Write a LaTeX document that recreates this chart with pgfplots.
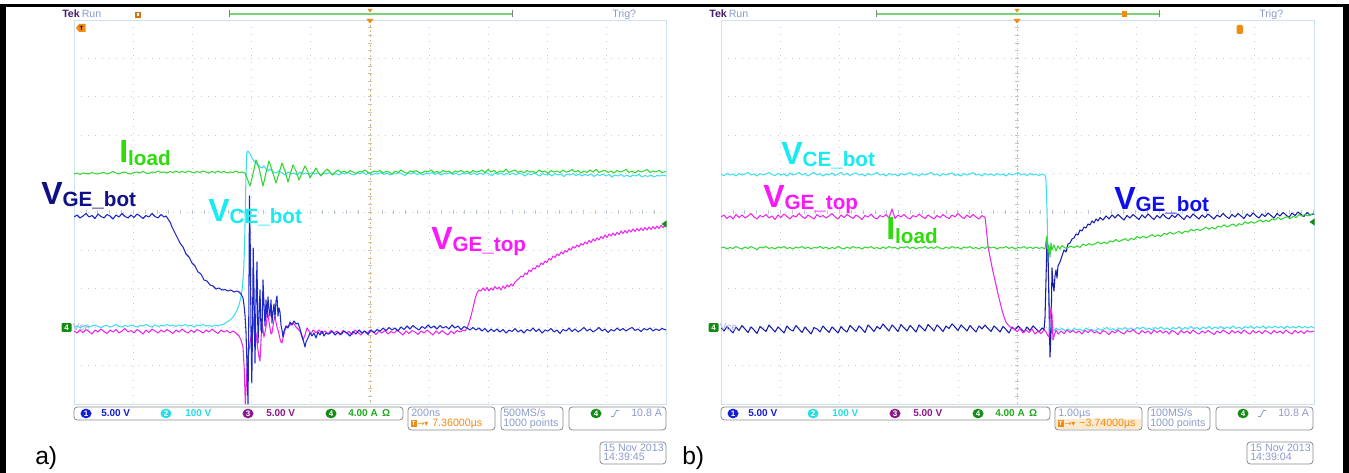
\documentclass[border=0pt]{standalone}
\usepackage{pgfplots}
\pgfplotsset{compat=1.18}
\usepackage{fontspec}
\setmainfont{Liberation Sans}
\newfontfamily\dv{DejaVu Sans}
\definecolor{trgreen}{RGB}{50,215,50}
\definecolor{trcyan}{RGB}{60,222,238}
\definecolor{trblue}{RGB}{30,40,200}
\definecolor{trblueb}{RGB}{25,30,170}
\definecolor{trmag}{RGB}{235,40,235}
\definecolor{labnavy}{RGB}{15,15,135}
\definecolor{labblue}{RGB}{15,15,235}
\definecolor{labgreen}{RGB}{45,220,10}
\definecolor{labcyan}{RGB}{25,235,240}
\definecolor{labmag}{RGB}{250,25,250}
\definecolor{gridc}{RGB}{195,205,220}
\definecolor{gridframe}{RGB}{205,225,242}
\definecolor{uitext}{RGB}{140,155,205}
\definecolor{uiorange}{RGB}{240,140,20}
\definecolor{tekpurple}{RGB}{70,30,110}
\definecolor{boxc}{RGB}{140,140,140}
\definecolor{ch1}{RGB}{20,30,215}
\definecolor{ch2}{RGB}{40,220,230}
\definecolor{ch3}{RGB}{140,25,140}
\definecolor{ch4}{RGB}{20,140,20}
\definecolor{ch4t}{RGB}{30,170,30}
\definecolor{brgreen}{RGB}{120,210,120}
\definecolor{peach}{RGB}{253,233,205}
\definecolor{ctrline}{RGB}{235,175,100}

\pgfplotsset{tekscope/.style={
  width=444pt, height=288pt, scale only axis, anchor=south west,
  y dir=reverse, ymin=20, ymax=404,
  ytick={20,58.4,...,404},
  xticklabels={}, yticklabels={}, tick style={draw=none},
  axis line style={draw=gridframe, line width=0.6pt},
  grid=major, major grid style={gridc, line width=0.55pt, dash pattern=on 0.7pt off 4.6pt},
  every axis plot/.append style={line width=0.8pt, mark=none, line join=round}
}}

\newcommand{\uif}{\fontsize{8}{9}\selectfont}
\newcommand{\sig}[6]{\node[anchor=base west,inner sep=0pt,text=#1,font=\bfseries] at (#2,#3) {\fontsize{24}{24}\selectfont #4\fontsize{15.5}{16}\selectfont\raisebox{#6}{#5}};}
\newcommand{\chan}[6]{\fill[#2] (#1,413.5) ellipse [x radius=5.5, y radius=4.8];
  \node[text=white,font=\fontsize{6}{6}\selectfont\bfseries,inner sep=0] at (#1,413.6) {#3};
  \node[anchor=base west,inner sep=0,text=#4,font=\fontsize{7.5}{8}\selectfont\bfseries] at (#6,417) {#5};}
\newcommand{\chrome}[6]{%
  \node[anchor=base west,inner sep=0,text=tekpurple,font=\fontsize{8}{9}\selectfont\bfseries] at (62,17.5) {Tek};
  \node[anchor=base west,inner sep=0,text=uitext,font=\uif] at (81.5,17.5) {Run};
  \draw[brgreen, line width=0.8pt] (229,14)--(512,14);
  \draw[gray, line width=0.6pt] (229,10.5)--(229,17.5) (512,10.5)--(512,17.5);
  \fill[uiorange] (367.5,9)--(372.5,9)--(370,12.5)--cycle;
  \fill[uiorange] (366.5,19)--(373.5,19)--(370,23.5)--cycle;
  \node[anchor=base west,inner sep=0,text=uitext,font=\uif] at (612,17.5) {Trig?};
  \node[fill=ch4,text=white,rounded corners=0.8pt,inner sep=0pt,minimum width=7.5pt,minimum height=6.5pt,font=\fontsize{6}{6}\selectfont\bfseries] at (66.5,327.5) {4};
  \node[anchor=base west,inner sep=0,text=uitext!80,font=\fontsize{7.5}{8}\selectfont] at (72.5,331) {Vce};
  \draw[boxc, rounded corners=2.5pt, line width=0.6pt] (74,407) rectangle (403,420);
  \chan{86}{ch1}{1}{ch1}{5.00 V}{101}
  \chan{166}{ch2}{2}{ch2}{100 V}{185}
  \chan{248}{ch3}{3}{ch3}{5.00 V}{266}
  \chan{331}{ch4}{4}{ch4t}{4.00 A \,Ω}{348}
  \fill[#5] (409,419.3) rectangle (494,429.2);
  \draw[boxc, rounded corners=2.5pt, line width=0.6pt] (408,407) rectangle (495,430);
  \node[anchor=base west,inner sep=0,text=uitext,font=\uif] at (411,416.5) {#1};
  \fill[uiorange] (411,420.5) rectangle (416.5,427);
  \node[text=white,font=\fontsize{4.5}{5}\selectfont\bfseries,inner sep=0] at (413.75,423.75) {T};
  \node[anchor=base west,inner sep=0,text=uiorange,font=\dv\fontsize{6}{6}\selectfont] at (417.5,426.3) {→▾};
  \node[anchor=base west,inner sep=0,text=uiorange,font=\uif] at (432,426.5) {#2};
  \draw[boxc, rounded corners=2.5pt, line width=0.6pt] (501,407) rectangle (563,430);
  \node[anchor=base west,inner sep=0,text=uitext,font=\uif] at (503,416.5) {#3};
  \node[anchor=base west,inner sep=0,text=uitext,font=\uif] at (503,426.5) {1000 points};
  \draw[boxc, rounded corners=2.5pt, line width=0.6pt] (569,407) rectangle (666,430);
  \fill[ch4] (596,413.5) ellipse [x radius=5.5, y radius=4.8];
  \node[text=white,font=\fontsize{6}{6}\selectfont\bfseries,inner sep=0] at (596,413.6) {4};
  \draw[uitext, line width=0.6pt] (611,416.5)--(613.5,416.5)--(616.5,410.5)--(619,410.5);
  \node[anchor=base west,inner sep=0,text=uitext,font=\uif] at (631,416.5) {10.8 A};
  \draw[boxc, rounded corners=2.5pt, line width=0.6pt] (600,442) rectangle (666,464);
  \node[anchor=base west,inner sep=0,text=uitext,font=\uif] at (603,451.5) {15 Nov 2013};
  \node[anchor=base west,inner sep=0,text=uitext,font=\uif] at (603,461) {#4};
  \node[anchor=base west,inner sep=0,font=\fontsize{18.5}{20}\selectfont] at (35,465) {#6};
}
\newcommand{\ctrticks}[1]{%
  \foreach \k in {0,...,50} {\draw[gridc!90!gray, line width=0.5pt] (#1+\k*11.84,210) -- (#1+\k*11.84,214);}
  \foreach \k in {0,...,50} {\draw[gridc!90!gray, line width=0.5pt] (#1+294,20+\k*7.68) -- (#1+298,20+\k*7.68);}
}

\begin{document}
\begin{tikzpicture}
\begin{scope}[x=0.75pt,y=-0.75pt]
\path[use as bounding box, fill=white] (0,0) rectangle (1349,473);
\ctrticks{74}
\ctrticks{721}
\draw[ctrline, line width=0.6pt, dash pattern=on 1.5pt off 2.2pt] (370,20)--(370,404);
\draw[gridc!80!gray, line width=0.6pt, dash pattern=on 1pt off 2.5pt] (1017.5,20)--(1017.5,404);
\end{scope}

% ---------------- panel a ----------------
\begin{axis}[tekscope, xmin=74, xmax=666, xtick={74,133.2,...,666}, at={(55.5pt,-303pt)}]
\addplot[trcyan] coordinates {(74,327)(77,326)(80,327.5)(83,326.5)(86,325.5)(89,327)(92,326)(95,325)(98,326.5)(101,327.5)(104,326)(107,325.5)(110,327)(113,326)(116,324.5)(119,326.5)(122,327)(125,325.5)(128,326.5)(131,325)(134,326)(137,327)(140,325.5)(143,326)(146,324.5)(149,326)(152,327)(155,325)(158,326.5)(161,325.5)(164,326)(167,324.5)(170,326)(173,325)(176,326.5)(179,325)(182,326)(185,324.5)(188,326)(191,325.5)(194,327)(197,325)(200,326)(203,324.5)(206,326)(209,325.5)(212,326.5)(215,325)(218,326)(221,325)
(224,324)(227,322)(230,320)(233,317)(235,314)(237,310)(239,305)(240.5,299)(242,290)(243,280)(244,262)(244.8,235)(245.4,205)(246,175)(246.8,153)(248,151)(250,154)(252,158)(254,161)(256,163)(258,165)(260,167)(262,168)(264,166)(266,169)(268,171)(270,169)(273,172)(276,173)(279,171)(282,173)(285,175)(288,172)(291,174)(294,173)(297,175)(300,172)(303,174)
(306,173)(309,174.5)(312,172.5)(315,174)(318,173)(321,175)(324,173)(327,174)(330,172.5)(333,174.5)(336,173.5)(339,175)(342,173)(345,174)(348,172.5)(351,174)(354,175)(357,173)(360,174)(363,172.5)(366,174.5)(369,173)(372,175)(375,173.5)(378,174)(381,172.5)(384,174.5)(387,173)(390,175)(393,173.5)(396,174)(399,172.5)(402,174)(405,175.5)(408,173)(411,174)(414,172.5)(417,174.5)(420,173.5)(423,175)(426,173)(429,174)(432,172.5)(435,174.5)(438,173)(441,175)(444,173.5)(447,174)(450,172.5)(453,174.5)(456,173)(459,175)(462,173.5)(465,174)(468,173)(471,174.5)(474,173)(477,175)(480,173)(483,174.5)(486,172.5)(489,174)(492,175.5)(495,173)(498,174.5)(501,173)(504,175)(507,173.5)(510,174.5)(513,173)(516,175)(519,173.5)(522,174)(525,176)(528,173.5)(531,175)(534,173)(537,174.5)(540,176)(543,173.5)(546,175)(549,174)(552,176)(555,173.5)(558,175)(561,174)(564,176.5)(567,174)(570,175)(573,173.5)(576,175.5)(579,174)(582,176)(585,174.5)(588,175.5)(591,174)(594,176.5)(597,174.5)(600,175.5)(603,174)(606,176)(609,174.5)(612,177)(615,175)(618,176)(621,174.5)(624,176.5)(627,175)(630,177)(633,175)(636,176)(639,174.5)(642,177)(645,175.5)(648,176.5)(651,175)(654,177)(657,175.5)(660,176)(663,175)(666,176)};
\addplot[trmag] coordinates {(74,331)(77,333)(80,330)(83,332.5)(86,329.5)(89,331.5)(92,334)(95,330)(98,332)(101,329)(104,331.5)(107,333.5)(110,330)(113,332)(116,329.5)(119,333)(122,331)(125,328.5)(128,332)(131,330.5)(134,333)(137,329.5)(140,331.5)(143,334)(146,330)(149,332.5)(152,329)(155,331)(158,333)(161,330)(164,332)(167,329.5)(170,331.5)(173,333.5)(176,330)(179,332)(182,329)(185,331.5)(188,333)(191,330)(194,332.5)(197,329.5)(200,331)(203,333)(206,330)(209,332)(212,329)(215,331.5)(218,333.5)(221,330)(224,332)(227,330.5)(230,333)(233,331)
(236,333)(239,336)(241,340)(243,347)(244.3,370)(245.3,404)(246.3,385)(247.5,358)(249,350)(250.5,340)(252,328)(253,317)(254.5,335)(256,333)(257.5,347)(259,357)(260,361)(261,340)(262,323)(263,330)(264,337)(265,332)(266,327)(267,318)(268,313)(269,322)(270,328)(271,334)(272,333)(273,326)(274,320)(275,317)(276,322)(277,327)(278,330)(279,334)(280,339)(281,342)(282,343)(283,338)(284,334)(285,330)(286,328)(287,326)(288,327)(290,325)(292,323)(294,324)(296,327)(298,329)(300,331)(302,337)(303,340)(305,335)(307,328)(309,331)(311,334)(313,330)
(316,332.5)(319,330)(322,333.5)(325,331)(328,334)(331,330.5)(334,333)(337,331)(340,335)(343,330.5)(346,333)(349,331.5)(352,334.5)(355,330)(358,332.5)(361,335)(364,331)(367,333.5)(370,330)(373,332)(376,334.5)(379,331)(382,333)(385,330.5)(388,334)(391,331.5)(394,333)(397,330)(400,332.5)(403,335)(406,331)(409,333.5)(412,330.5)(415,332)(418,334.5)(421,331)(424,333)(427,330)(430,332.5)(433,335)(436,331)(439,333.5)(442,330.5)(445,333)(448,335)(451,331)(454,333.5)(457,330.5)(460,332)(463,330)
(465,331)(467,328)(469,323)(471,316)(473,308)(475,299)(477,293)(479,290)(481,291)(483,288)(485,290.5)(487,287.5)(489,291)(491,288)(493,290)(495,286.5)(497,289)(499,287)(501,290)(503,286)(505,288.5)(507,285)(509,287)(511,284)(513,286)(515,282)(517,280)(519,278.5)(521,276)(523,277)(525,273)(527,274.5)(529,270)(531,271.5)(533,268)(535,269)(537,265.5)(539,267)(541,263)(543,264.5)(545,261)(547,262.5)(549,258.5)(551,260)(553,256)(555,257.5)(557,254)(559,255.5)(561,252)(563,254)(565,250.5)(567,252)(569,248.5)(571,250)(573,246.5)(575,248)(577,245)(579,247)(581,243.5)(583,245)(585,242)(587,244)(589,240.5)(591,242.5)(593,239)(595,241)(597,238)(599,240)(601,236.5)(603,238.5)(605,235)(607,237.5)(609,234)(611,236)(613,233)(615,235.5)(617,232.5)(619,234.5)(621,231)(623,233.5)(625,230.5)(627,233)(629,230)(631,232)(633,229)(635,231.5)(637,228.5)(639,231)(641,228)(643,230.5)(645,227.5)(647,230)(649,227)(651,229.5)(653,226.5)(655,229)(657,226)(659,228.5)(661,225.5)(663,227.5)(666,225)};
\addplot[trblue] coordinates {(74,217)(77,215)(80,218)(83,216)(86,213.5)(89,217)(92,215.5)(95,218.5)(98,214)(101,216.5)(104,218)(107,214.5)(110,216)(113,219)(116,215)(119,217)(122,213.5)(125,216.5)(128,218)(131,215)(134,217.5)(137,214)(140,216)(143,218.5)(146,215.5)(149,217)(152,213.5)(155,216.5)(158,218)(161,214.5)(164,217)(166,216)
(168,219)(170,222)(172,227)(174,231)(177,237)(180,243)(183,247)(186,254)(189,257)(192,263)(195,266)(198,272)(201,274)(204,280)(207,281)(210,285)(213,286)(216,289)(219,288)(222,290)(225,289.5)(228,291)(231,290)(234,292)(237,291)(239,292)(241,294)(243,298)(244,305)(245,315)(246,332)(247,365)(248,404)(248.7,330)(249.5,196)(250.3,250)(251,330)(251.8,383)(252.5,330)(253.2,248)(254,290)(255,363)(256,300)(257,262)(258,343)(259,318)(260,290)(261,330)(262,333)(263,280)(264,305)(265,326)(266,300)(267,317)(268,297)(269,310)(270,316)(271,300)(272,323)(273,312)(274,304)(275,318)(276,301)(277,296)(278,316)(279,308)(280,312)(281,325)(282,330)(283,337)(284,331)(286,326)(288,328)(290,322)(292,325)(294,321)(296,324)(298,323)(300,329)(302,336)(304,343)(305,347)(306,342)(308,338)(310,333)(312,336)(314,333)(316,338)(318,332)(320,335)(322,331)(324,336)(326,333)
(329,334)(332,331)(335,335)(338,332)(341,334.5)(344,331)(347,333)(350,336)(353,331.5)(356,334)(359,330)(362,333)(365,331)(368,334.5)(371,330)(374,332.5)(377,329.5)(380,331)(383,328)(386,330.5)(389,327.5)(392,330)(395,328)(398,331)(401,327)(404,329.5)(407,326)(410,329)(413,325.5)(416,328)(419,330)(422,326.5)(425,328.5)(428,325)(431,328)(434,326)(437,329)(440,325.5)(443,328)(446,326.5)(449,329)(452,325)(455,328)(458,326)(461,329.5)(464,326.5)(467,328)(470,330)(473,327.5)(476,330)(479,328)(482,331)(485,328.5)(488,332)(491,329)(494,331.5)(497,329)(500,332)(503,329.5)(506,333)(509,330)(512,331.5)(515,328.5)(518,332)(521,330)(524,333)(527,329.5)(530,331)(533,328)(536,331.5)(539,329)(542,333)(545,330)(548,331)(551,328.5)(554,332)(557,330)(560,333.5)(563,329.5)(566,331)(569,328)(572,331.5)(575,329)(578,332)(581,330)(584,327.5)(587,331)(590,329)(593,332)(596,330)(599,327.5)(602,331)(605,329)(608,332.5)(611,329.5)(614,331)(617,328)(620,330.5)(623,328.5)(626,331)(629,329)(632,327.5)(635,330.5)(638,329)(641,331.5)(644,328.5)(647,330)(650,328)(653,331)(656,329)(659,330.5)(662,328.5)(666,330)};
\addplot[trgreen] coordinates {(74,174)(77,173)(80,174.5)(83,173)(86,173.5)(89,174)(92,172.5)(95,173.5)(98,174)(101,173)(104,172.5)(107,174)(110,173)(113,171.5)(116,173)(119,174)(122,172.5)(125,172)(128,173.5)(131,174)(134,172.5)(137,172)(140,173)(143,171.5)(146,173)(149,173.5)(152,172)(155,172.5)(158,171)(161,172.5)(164,172)(167,173)(170,171.5)(173,172.5)(176,171)(179,172.5)(182,171.5)(185,172.5)(188,171)(191,172)(194,173)(197,171.5)(200,172.5)(203,171)(206,172)(209,173)(212,171.5)(215,172.5)(218,171)(221,172.5)(224,171.5)(227,173)(230,172)(233,172.5)(236,171)(239,172.5)(242,172)
(245,173)(247,178)(250,186)(253,174)(256,160)(259,168)(263,186)(266,173)(269,161)(272,170)(276,183)(279,173)(282,163)(285,171)(288,182)(290,175)(293,165)(296,171)(299,180)(302,173)(305,166)(308,172)(310,178)(313,173)(316,168)(318,172)(321,176)(324,172)(327,169)(330,172)(332,175)(335,172)(338,170)
(341,172.5)(344,171)(347,173)(350,170.5)(353,172)(356,173.5)(359,171.5)(362,172)(365,170)(368,172.5)(371,173)(374,171)(377,172)(380,170.5)(383,173)(386,171.5)(389,172)(392,174)(395,171)(398,172.5)(401,170)(404,172)(407,173.5)(410,171)(413,172)(416,170.5)(419,172.5)(422,173)(425,171)(428,172)(431,170)(434,172.5)(437,171.5)(440,173)(443,170.5)(446,172)(449,171)(452,173.5)(455,171)(458,172)(461,170.5)(464,172.5)(467,171)(470,173)(473,170.5)(476,172)(479,171.5)(482,170)(485,172.5)(488,169.5)(491,172)(494,170.5)(497,173)(500,171)(503,172)(506,169)(509,172.5)(512,171)(515,170)(518,172.5)(521,171)(524,173)(527,170.5)(530,172)(533,171.5)(536,173)(539,170)(542,172)(545,171)(548,173.5)(551,170.5)(554,172)(557,171)(560,172.5)(563,170)(566,172)(569,171.5)(572,169.5)(575,172)(578,170.5)(581,173)(584,171)(587,172.5)(590,170)(593,172)(596,169.5)(599,172.5)(602,171)(605,170.5)(608,172.5)(611,171)(614,173)(617,170.5)(620,172)(623,171)(626,169.5)(629,172.5)(632,171)(635,173)(638,170.5)(641,172)(644,171)(647,169.5)(650,172.5)(653,171)(656,172)(659,170.5)(662,172.5)(666,171.5)};
\end{axis}

% ---------------- panel b ----------------
\begin{axis}[tekscope, width=444.75pt, xmin=721, xmax=1314, xtick={721,780.3,...,1314}, at={(540.75pt,-303pt)}]
\addplot[trcyan] coordinates {(721,174.5)(724,175.5)(727,173.5)(730,175)(733,174)(736,176)(739,173.5)(742,175)(745,174)(748,172.5)(751,175)(754,174)(757,176)(760,173.5)(763,175)(766,174)(769,172.5)(772,174.5)(775,175.5)(778,173.5)(781,175)(784,174)(787,176)(790,173)(793,175)(796,174)(799,172.5)(802,175)(805,173.5)(808,176)(811,174)(814,172.5)(817,175)(820,173.5)(823,176)(826,174)(829,175)(832,173)(835,175.5)(838,174)(841,172.5)(844,175)(847,173.5)(850,175.5)(853,174)(856,173)(859,175)(862,174)(865,176)(868,173.5)(871,175)(874,174)(877,172.5)(880,175)(883,174)(886,176)(889,173.5)(892,175)(895,174)(898,176)(901,173.5)(904,175)(907,174)(910,172.5)(913,175)(916,174)(919,176)(922,173.5)(925,175)(928,174)(931,172.5)(934,175)(937,174)(940,176)(943,173.5)(946,175)(949,174)(952,173)(955,175.5)(958,174)(961,176)(964,173.5)(967,175)(970,174)(973,172.5)(976,175)(979,174)(982,176)(985,173.5)(988,175)(991,174)(994,175.5)(997,173.5)(1000,175)(1003,174)(1006,176)(1009,173.5)(1012,175)(1015,174)(1018,172.5)(1021,175)(1024,174)(1027,175.5)(1030,173.5)(1033,175)(1036,174)(1039,175.5)(1042,174)(1045,175)
(1046,180)(1047,210)(1048,255)(1049,300)(1050,325)(1051,333)(1052,329)(1054,331)(1056,328)
(1059,330)(1062,328.5)(1065,330.5)(1068,329)(1071,331)(1074,328.5)(1077,330)(1080,329)(1083,331)(1086,328)(1089,330)(1092,329.5)(1095,331)(1098,328.5)(1101,330)(1104,329)(1107,327.5)(1110,330)(1113,328.5)(1116,330.5)(1119,328)(1122,329.5)(1125,327.5)(1128,329.5)(1131,328)(1134,330)(1137,327.5)(1140,329)(1143,327)(1146,329.5)(1149,328)(1152,330)(1155,327.5)(1158,329)(1161,327)(1164,329.5)(1167,328)(1170,330)(1173,327.5)(1176,329)(1179,327)(1182,329.5)(1185,327.5)(1188,329)(1191,326.5)(1194,329)(1197,327.5)(1200,329.5)(1203,327)(1206,328.5)(1209,326.5)(1212,329)(1215,327)(1218,328.5)(1221,326.5)(1224,329)(1227,327)(1230,328.5)(1233,326)(1236,328.5)(1239,327)(1242,329)(1245,326.5)(1248,328)(1251,326)(1254,328.5)(1257,326.5)(1260,328)(1263,326)(1266,328.5)(1269,326.5)(1272,328)(1275,326)(1278,328)(1281,326.5)(1284,328.5)(1287,326)(1290,328)(1293,326.5)(1296,328)(1299,326)(1302,328)(1305,326.5)(1308,328)(1311,326.5)(1314,328)};
\addplot[trblueb] coordinates {(721,328)(724,331)(727,326.5)(730,330)(733,333)(736,327)(739,330.5)(742,325.5)(745,329)(748,332.5)(751,327)(754,330)(757,333.5)(760,326.5)(763,329)(766,331.5)(769,325)(772,328.5)(775,332)(778,327)(781,330)(784,333)(787,326)(790,329.5)(793,331)(796,325.5)(799,329)(802,332.5)(805,327)(808,330.5)(811,334)(814,327.5)(817,329)(820,332)(823,326)(826,329.5)(829,332.5)(832,327)(835,330)(838,333)(841,326.5)(844,330)(847,332)(850,325.5)(853,328.5)(856,331.5)(859,326)(862,329)(865,332.5)(868,325)(871,328)(874,331.5)(877,326.5)(880,329)(883,324)(886,327.5)(889,331)(892,325)(895,328)(898,331.5)(901,324.5)(904,328)(907,331)(910,325.5)(913,328.5)(916,332)(919,325)(922,328)(925,331)(928,324.5)(931,327.5)(934,331)(937,325)(940,328)(943,331.5)(946,326)(949,328.5)(952,324)(955,327)(958,330.5)(961,325)(964,328)(967,331)(970,325.5)(973,329)(976,332)(979,326)(982,329)(985,325)(988,328.5)(991,331.5)(994,326)(997,329)(1000,332)(1003,326.5)(1006,329.5)(1009,333)(1012,327)(1015,330)(1018,326)(1021,329)(1024,332)(1027,327)(1030,330.5)(1033,326)(1036,329)(1039,332)(1042,328)
(1044,330)(1045,318)(1046,280)(1047,240)(1048,252)(1049,305)(1050,357)(1051,332)(1052,268)(1053,284)(1054,291)(1055,276)(1056,270)(1057,278)(1058,266)(1060,262)(1062,256)(1064,250)(1066,252)(1068,244)(1070,243)(1072,239)(1074,238)(1076,234)(1078,235)(1080,230)(1082,231)(1084,227)(1086,228)(1088,224)(1090,225)(1092,221)(1094,223)(1096,219)(1098,221)(1100,217.5)(1103,220)
(1106,216)(1109,219)(1112,215)(1115,218)(1118,214.5)(1121,217.5)(1124,220)(1127,215.5)(1130,218)(1133,214.5)(1136,217)(1139,219.5)(1142,215)(1145,218)(1148,214)(1151,217)(1154,219.5)(1157,215.5)(1160,218)(1163,214)(1166,217.5)(1169,219)(1172,215)(1175,217.5)(1178,214)(1181,217)(1184,219.5)(1187,215.5)(1190,218)(1193,214)(1196,216.5)(1199,219)(1202,215)(1205,217.5)(1208,214)(1211,216.5)(1214,219)(1217,215)(1220,217)(1223,213.5)(1226,216.5)(1229,218.5)(1232,214.5)(1235,217)(1238,213.5)(1241,216)(1244,218.5)(1247,214)(1250,216.5)(1253,213)(1256,216)(1259,218)(1262,214)(1265,216.5)(1268,213)(1271,215.5)(1274,218)(1277,213.5)(1280,216)(1283,212.5)(1286,215)(1289,217.5)(1292,213)(1295,215.5)(1298,212)(1301,214.5)(1304,216.5)(1307,212.5)(1310,215)(1314,214)};
\addplot[trmag] coordinates {(721,217)(724,215)(727,218.5)(730,216)(733,219)(736,214.5)(739,217.5)(742,215)(745,218)(748,216)(751,213.5)(754,217)(757,219)(760,215.5)(763,217)(766,214.5)(769,218)(772,216)(775,219.5)(778,215)(781,217.5)(784,214)(787,216.5)(790,219)(793,215.5)(796,217)(799,213.5)(802,216.5)(805,218.5)(808,215)(811,217)(814,219)(817,214.5)(820,217)(823,215.5)(826,218)(829,216)(832,213.5)(835,217)(838,219)(841,215)(844,217.5)(847,214.5)(850,216.5)(853,218.5)(856,215)(859,217)(862,219.5)(865,215.5)(868,217)(871,214)(874,217.5)(877,219)(880,215.5)(883,217)(886,214.5)(889,218)(892,209)(895,218.5)(898,215)(901,217)(904,214.5)(907,217.5)(910,219)(913,215.5)(916,217)(919,214)(922,216.5)(925,218.5)(928,215)(931,217)(934,219)(937,215.5)(940,217.5)(943,214.5)(946,217)(949,218.5)(952,215)(955,217)(958,213.5)(961,216.5)(964,218.5)(967,215)(970,217.5)(973,214.5)(976,217)(979,219)(982,215.5)(984,217)
(985,217)(986,226)(987,236)(988,246)(990,257)(992,267)(994,276)(996,285)(998,294)(1000,302)(1002,310)(1004,317)(1006,322)(1008,325)(1010,327)(1012,328)(1014,329)
(1017,331.5)(1020,328.5)(1023,333)(1026,330)(1029,332.5)(1032,329)(1035,334)(1038,331)(1041,333.5)(1044,330)
(1046,332)(1048,336)(1049,337)(1050,318)(1051,307)(1052,315)(1053,340)(1054,336)(1056,330)(1058,334)
(1061,331)(1064,333.5)(1067,330)(1070,332.5)(1073,330.5)(1076,333)(1079,331)(1082,334)(1085,330.5)(1088,332.5)(1091,330)(1094,333)(1097,331.5)(1100,334)(1103,330.5)(1106,332)(1109,334.5)(1112,331)(1115,333)(1118,330)(1121,332.5)(1124,334)(1127,330.5)(1130,332)(1133,329.5)(1136,332.5)(1139,334)(1142,330.5)(1145,333)(1148,331)(1151,334)(1154,330)(1157,332.5)(1160,330.5)(1163,333)(1166,331)(1169,334)(1172,330.5)(1175,332)(1178,334.5)(1181,330.5)(1184,333)(1187,331)(1190,333.5)(1193,330)(1196,332.5)(1199,334)(1202,331)(1205,333)(1208,330.5)(1211,332.5)(1214,334.5)(1217,331)(1220,333)(1223,330)(1226,332)(1229,334)(1232,330.5)(1235,333)(1238,331)(1241,333.5)(1244,330)(1247,332.5)(1250,334)(1253,330.5)(1256,333)(1259,331)(1262,333.5)(1265,330.5)(1268,332)(1271,334)(1274,330.5)(1277,333)(1280,331)(1283,333.5)(1286,330)(1289,332.5)(1292,334)(1295,330.5)(1298,333)(1301,331)(1304,333.5)(1307,330.5)(1310,332)(1314,331)};
\addplot[trgreen] coordinates {(721,248)(724,247)(727,249)(730,247.5)(733,248.5)(736,246.5)(739,248)(742,249)(745,247)(748,248.5)(751,246.5)(754,248)(757,249.5)(760,247)(763,248)(766,246.5)(769,248.5)(772,247.5)(775,249)(778,247)(781,248)(784,246.5)(787,248.5)(790,247.5)(793,249)(796,247)(799,248)(802,246.5)(805,248.5)(808,247)(811,249)(814,247.5)(817,248)(820,246.5)(823,248.5)(826,247)(829,249)(832,247.5)(835,248.5)(838,246.5)(841,248)(844,249)(847,247)(850,248.5)(853,246.5)(856,248)(859,247.5)(862,249)(865,247)(868,248)(871,246.5)(874,248.5)(877,247.5)(880,249)(883,247)(886,248.5)(889,246.5)(892,248)(895,247.5)(898,249)(901,247)(904,248)(907,246.5)(910,248.5)(913,247)(916,249)(919,247.5)(922,248)(925,246.5)(928,248.5)(931,247)(934,248.5)(937,246.5)(940,248)(943,249)(946,247)(949,248.5)(952,246.5)(955,248)(958,247.5)(961,249)(964,247)(967,248)(970,246.5)(973,248.5)(976,247.5)(979,249)(982,247)(985,248.5)(988,246.5)(991,248)(994,247)(997,249)(1000,247.5)(1003,248)(1006,246.5)(1009,248.5)(1012,247)(1015,249)(1018,247.5)(1021,248)(1024,246.5)(1027,248.5)(1030,247)(1033,248.5)(1036,247)(1039,248.5)(1042,247.5)
(1045,249)(1046,241)(1047,236)(1048,253)(1049,245)(1050,257)(1051,243)(1052,250)(1054,245)(1056,251)(1058,246)(1060,249)(1062,245.5)(1065,248)
(1068,247.5)(1071,246.1)(1074,247.7)(1077,245.8)(1080,247.4)(1083,244)(1086,245.6)(1089,243.6)(1092,245.2)(1095,243.8)(1098,241.9)(1101,244)(1104,242.1)(1107,243.7)(1110,240.8)(1113,241.9)(1116,239.5)(1119,241.6)(1122,240.2)(1125,238.7)(1128,240.8)(1131,238.4)(1134,239.5)(1137,236.6)(1140,238.2)(1143,236.3)(1146,237.9)(1149,236.5)(1152,234.6)(1155,236.7)(1158,234.8)(1161,236.4)(1164,233.4)(1167,234.5)(1170,232.1)(1173,234.2)(1176,232.8)(1179,231.4)(1182,233.5)(1185,231.1)(1188,232.2)(1191,229.3)(1194,230.9)(1197,229)(1200,230.5)(1203,229.1)(1206,227.2)(1209,229.3)(1212,227.4)(1215,229)(1218,226.1)(1221,227.2)(1224,224.8)(1227,226.9)(1230,225.5)(1233,224.1)(1236,226.2)(1239,223.7)(1242,224.8)(1245,221.9)(1248,223.5)(1251,221.6)(1254,223.2)(1257,221.8)(1260,219.9)(1263,222)(1266,220.1)(1269,221.7)(1272,218.8)(1275,219.9)(1278,217.4)(1281,219.5)(1284,218.1)(1287,216.7)(1290,218.8)(1293,216.4)(1296,217.5)(1299,214.6)(1302,216.2)(1305,214.3)(1308,215.9)(1311,214.5)(1314,213.1)};
\end{axis}

\begin{scope}[x=0.75pt,y=-0.75pt]
\fill[black] (0,4) rectangle (1349,7.5);
\fill[black] (0,4) rectangle (5.5,473);
\fill[black] (1343,4) rectangle (1349,473);
\chrome{200ns}{7.36000µs}{500MS/s}{14:39:45}{white}{a)}
\fill[uiorange!85!black] (135,12) rectangle (141,18);
\fill[white] (137,13.5) rectangle (139,16.5);
\fill[uiorange] (76,28)--(79,24)--(85.5,24)--(85.5,32)--(79,32)--cycle;
\node[text=black,font=\fontsize{4.5}{5}\selectfont\bfseries,inner sep=0] at (81.5,28) {T};
\fill[ch4] (666.5,220.5)--(666.5,227.5)--(661.5,224)--cycle;
\begin{scope}[xshift=485.25pt]
\chrome{1.00µs}{−3.74000µs}{100MS/s}{14:39:04}{peach}{b)}
\end{scope}
\fill[uiorange] (1122,11) rectangle (1127,17.5);
\fill[uiorange, rounded corners=1pt] (1236.5,25) rectangle (1243,34);
\fill[ch4] (1314.5,218.5)--(1314.5,225.5)--(1309.5,222)--cycle;
\sig{labnavy}{41}{205}{V}{GE\_bot}{-1.5pt}
\sig{labgreen}{119}{163}{I}{load}{-2.25pt}
\sig{labcyan}{208}{222}{V}{CE\_bot}{-1.5pt}
\sig{labmag}{431}{250}{V}{GE\_top}{-1.5pt}
\sig{labcyan}{781}{165}{V}{CE\_bot}{-1.5pt}
\sig{labmag}{763}{208}{V}{GE\_top}{-1.5pt}
\sig{labgreen}{886}{240}{I}{load}{-2.5pt}
\sig{labblue}{1114}{210}{V}{GE\_bot}{-1.5pt}
\end{scope}
\end{tikzpicture}
\end{document}
